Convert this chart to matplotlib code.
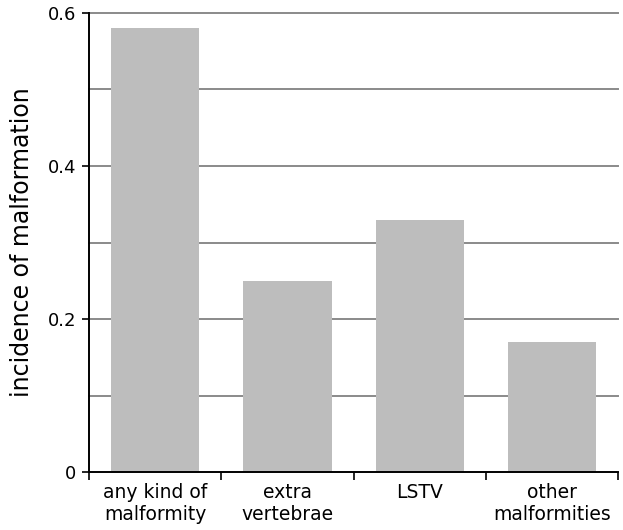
import matplotlib
matplotlib.use("Agg")
import matplotlib.pyplot as plt
import numpy as np

categories = ["any kind of\nmalformity", "extra\nvertebrae", "LSTV", "other\nmalformities"]
values = [0.58, 0.25, 0.33, 0.17]
ytick_vals = [0, 0.2, 0.4, 0.6]
ytick_labels = ["0", "0.2", "0.4", "0.6"]

plt.rcParams['font.family'] = ['DejaVu Sans']
fig = plt.figure(figsize=(6.23, 5.30), dpi=100)
ax = fig.add_axes([0.1429, 0.1094, 0.8491, 0.8661])

x = np.arange(len(categories))
for yv in np.arange(0.1, 0.61, 0.1):
    ax.axhline(yv, color="#8a8a8a", lw=1.4, zorder=1, clip_on=False)
ax.bar(x, values, width=0.667, color="#bdbdbd", zorder=2)

ax.set_xlim(-0.5, len(categories) - 0.5)
ax.set_ylim(0, 0.6)
ax.set_yticks(ytick_vals)
ax.set_yticklabels(ytick_labels, fontsize=13)
ax.set_xticks(x)
ax.set_xticklabels(categories, fontsize=13.5, linespacing=1.2)
ax.tick_params(axis="x", length=0, pad=8)
ax.set_xticks(np.arange(-0.5, len(categories)), minor=True)
ax.tick_params(axis="x", which="minor", length=6, width=1.2, direction="out")
ax.tick_params(axis="y", length=5, width=1.2, direction="out", pad=4)

for s in ["top", "right"]:
    ax.spines[s].set_visible(False)
for s in ["left", "bottom"]:
    ax.spines[s].set_linewidth(1.4)
    ax.spines[s].set_color("black")

ax.set_ylabel("incidence of malformation", fontsize=17)
ax.yaxis.set_label_coords(-0.104, 0.5)

fig.savefig("out.png", dpi=100)
